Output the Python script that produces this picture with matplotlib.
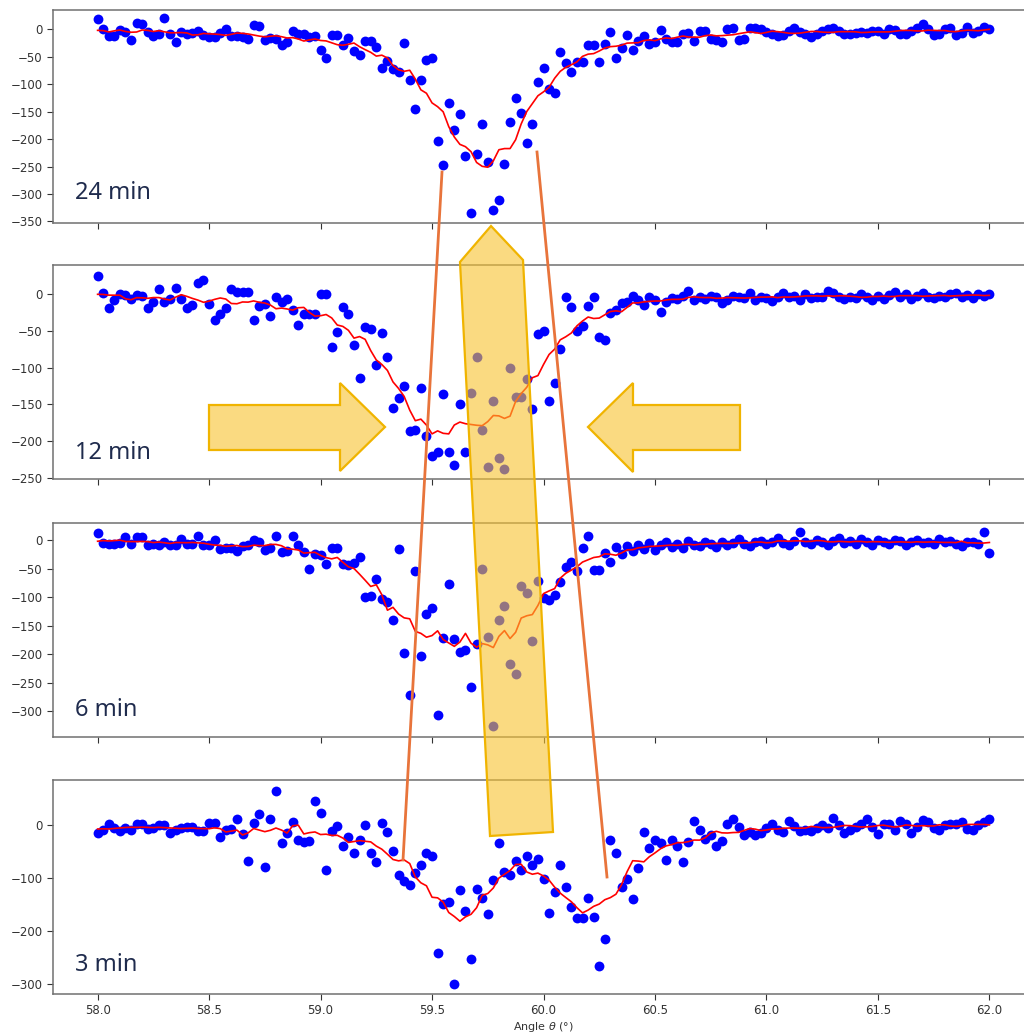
import matplotlib
matplotlib.use("Agg")
import matplotlib.pyplot as plt
import numpy as np
import pandas as pd
from matplotlib.patches import Polygon
from matplotlib.lines import Line2D

# angle grid (deg), one reading every 0.025 deg
angle = np.round(58.0 + 0.025 * np.arange(161), 3)

signal_24 = [
    18, 0, -13, -13, -2, -5, -19, 11, 10, -5,
    -13, -9, 20, -9, -23, -5, -8, -6, -4, -10,
    -15, -14, -6, 0, -12, -12, -14, -17, 7, 6,
    -19, -16, -18, -29, -24, -4, -9, -9, -15, -13,
    -38, -52, -10, -10, -28, -16, -40, -46, -22, -22,
    -32, -70, -58, -72, -78, -25, -92, -146, -92, -56,
    -53, -203, -248, -134, -183, -154, -230, -335, -227, -173,
    -241, -330, -311, -246, -169, -125, -153, -208, -173, -96,
    -70, -108, -116, -41, -61, -78, -60, -60, -29, -29,
    -60, -26, -5, -52, -35, -11, -38, -22, -12, -26,
    -23, -1, -17, -24, -24, -9, -6, -22, -4, -4,
    -17, -20, -24, 1, 2, -20, -18, 3, 3, 0,
    -5, -8, -13, -11, -3, 3, -5, -8, -15, -8,
    -3, 0, 3, -3, -8, -9, -7, -5, -7, -3,
    -3, -9, 0, -1, -9, -8, -3, 3, 9, 0,
    -11, -8, 0, 3, -11, -7, 5, -7, -3, 4,
    0,
]

signal_12 = [
    25, 2, -19, -8, 0, -1, -7, -1, -2, -19,
    -10, 7, -10, -6, 8, -7, -19, -14, 16, 20,
    -13, -35, -27, -19, 7, 3, 3, 3, -35, -16,
    -13, -29, -4, -10, -6, -22, -42, -27, -27, -27,
    0, 0, -72, -51, -17, -27, -69, -114, -44, -48,
    -96, -53, -85, -155, -142, -125, -187, -185, -128, -194,
    -221, -215, -136, -215, -233, -150, -215, -135, -85, -185,
    -235, -146, -224, -238, -100, -140, -140, -116, -157, -54,
    -50, -146, -121, -74, -4, -17, -50, -43, -16, -4,
    -58, -62, -25, -22, -12, -10, -2, -8, -15, -4,
    -8, -24, -10, -5, -6, -2, 5, -8, -4, -6,
    -2, -3, -12, -8, -2, -4, -5, 2, -8, -4,
    -5, -9, -3, 2, -4, -2, -8, 0, -5, -3,
    -4, 4, 2, -3, -6, -3, -5, 0, -4, -8,
    -2, -6, -1, 3, -4, 0, -6, -2, 2, -3,
    -5, -2, -4, 0, 2, -3, -1, -5, 1, -2,
    0,
]

signal_6 = [
    13, -5, -7, -6, -5, 5, -6, 5, 5, -8,
    -6, -8, -3, -9, -9, 2, -6, -6, 7, -8,
    -9, 1, -16, -14, -14, -20, -10, -9, 0, -3,
    -17, -14, 7, -21, -19, 7, -8, -21, -51, -24,
    -26, -42, -14, -14, -42, -43, -40, -29, -100, -98,
    -69, -104, -109, -140, -16, -199, -272, -55, -204, -129,
    -119, -307, -172, -77, -173, -197, -193, -257, -183, -51,
    -170, -327, -141, -115, -218, -235, -80, -92, -177, -71,
    -102, -105, -96, -74, -48, -38, -55, -13, 7, -52,
    -52, -22, -38, -12, -25, -10, -20, -8, -15, -5,
    -18, -9, -3, -12, -7, -14, -2, -8, -10, -4,
    -6, -12, -3, -8, -5, 2, -6, -10, -4, -1,
    -7, -3, 3, -5, -9, -2, 14, -4, -6, 0,
    -3, -8, -2, 3, -5, -1, -6, 2, -4, -8,
    0, -3, -6, 1, -2, -9, -4, 0, -5, -3,
    -7, 2, -4, -1, -6, -10, -3, -4, -6, 14,
    -22,
]

signal_3 = [
    -14, -8, 2, -4, -10, -4, -9, 2, 2, -6,
    -4, 0, 0, -14, -8, -4, -3, -3, -10, -11,
    4, 4, -22, -9, -6, 13, -17, -67, 4, 21,
    -79, 13, 66, -33, -14, 6, -28, -31, -30, 46,
    23, -84, -11, -2, -38, -22, -52, -28, 0, -52,
    -69, 4, -13, -48, -94, -105, -113, -90, -75, -53,
    -58, -241, -148, -145, -300, -123, -162, -253, -121, -138,
    -167, -104, -33, -88, -94, -67, -84, -57, -74, -63,
    -101, -165, -126, -75, -116, -155, -176, -176, -138, -173,
    -266, -214, -28, -52, -116, -102, -140, -80, -13, -42,
    -28, -34, -65, -28, -38, -69, -31, 8, -9, -26,
    -18, -38, -29, 2, 13, -3, -18, -12, -18, -15,
    -4, 2, -8, -12, 8, -2, -10, -8, -10, -5,
    0, -5, 15, 0, -15, -8, -3, 3, 13, -3,
    -17, 3, 3, -8, 8, 3, -15, -3, 11, 6,
    -5, -8, 0, 2, 3, 6, -6, -8, 0, 6,
    13,
]

panel_labels = ["24 min", "12 min", "6 min", "3 min"]
panel_signals = [signal_24, signal_12, signal_6, signal_3]
panel_ylims = [(-352, 36), (-252, 40), (-345, 30), (-319, 86)]
panel_yticks = [
    list(range(0, -351, -50)),
    list(range(0, -251, -50)),
    list(range(0, -301, -50)),
    [0, -100, -200, -300],
]
xticks = [58.0, 58.5, 59.0, 59.5, 60.0, 60.5, 61.0, 61.5, 62.0]

W, H = 1024, 1034
fig = plt.figure(figsize=(W / 100, H / 100), dpi=100)

# panel extents in pixels (top, bottom)
panel_px = [(9.5, 222.5), (265, 479), (523, 736.7), (780, 994)]
label_y = [193, 453, 710, 965]
ax_left, ax_width = 53, 981

spine_col = "#707070"
for k in range(4):
    top, bottom = panel_px[k]
    ax = fig.add_axes([ax_left / W, 1 - bottom / H, ax_width / W, (bottom - top) / H])
    y = np.array(panel_signals[k], dtype=float)
    smooth = pd.Series(y).rolling(9, center=True, min_periods=1).mean()
    ax.scatter(angle, y, s=50, color="blue", zorder=2, linewidths=0)
    ax.plot(angle, smooth, color="red", lw=1.2, zorder=3)
    ax.set_xlim(57.8, 62.2)
    ax.set_ylim(*panel_ylims[k])
    ax.set_yticks(panel_yticks[k])
    ax.set_xticks(xticks)
    if k < 3:
        ax.set_xticklabels([])
    else:
        ax.set_xticklabels([f"{t:.1f}" for t in xticks])
    ax.tick_params(labelsize=8.5, colors="#333333", length=4, width=0.8)
    for sp in ax.spines.values():
        sp.set_color(spine_col)
        sp.set_linewidth(1.1)
    fig.text(75 / W, 1 - label_y[k] / H, panel_labels[k], fontsize=17,
             color="#1f2b4d", va="center", ha="left", family="Noto Sans")

fig.text(543 / W, 1 - 1027 / H, r"Angle $\theta$ (°)", fontsize=8,
         color="#333333", ha="center", va="center")


def fpx(pts):
    return [(x / W, 1 - yy / H) for x, yy in pts]


fill_col = (0.97, 0.76, 0.18, 0.6)
edge_col = "#F0B400"
arrows = [
    [(460, 262), (491, 226), (523, 260), (553, 832), (490, 836)],
    [(209, 405), (340, 405), (340, 383), (385, 427), (340, 471), (340, 450), (209, 450)],
    [(740, 405), (633, 405), (633, 383), (588, 427), (633, 472), (633, 450), (740, 450)],
]
for pts in arrows:
    fig.add_artist(Polygon(fpx(pts), closed=True, facecolor=fill_col,
                           edgecolor=edge_col, lw=1.6, transform=fig.transFigure,
                           zorder=10))

for (x0, y0), (x1, y1) in [((442, 172), (403, 860)), ((537, 152), (607, 877))]:
    (fx0, fy0), (fx1, fy1) = fpx([(x0, y0), (x1, y1)])
    fig.add_artist(Line2D([fx0, fx1], [fy0, fy1], color="#E8743B", lw=2,
                          transform=fig.transFigure, zorder=11))

fig.savefig("out.png", dpi=100)
